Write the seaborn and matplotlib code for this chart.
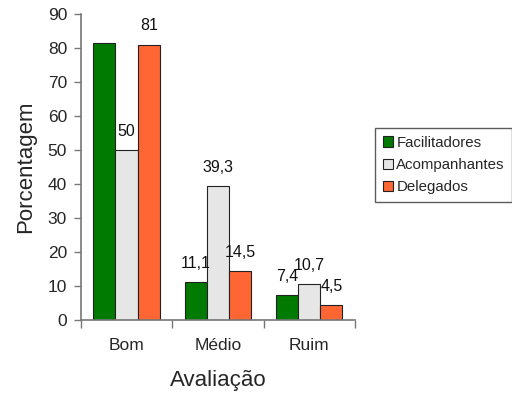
import matplotlib
matplotlib.use("Agg")
import matplotlib.pyplot as plt
import seaborn as sns
import pandas as pd

categorias = ["Bom", "Médio", "Ruim"]
grupos = ["Facilitadores", "Acompanhantes", "Delegados"]
facilitadores = [81.5, 11.1, 7.4]
acompanhantes = [50, 39.3, 10.7]
delegados = [81, 14.5, 4.5]
rotulos = {
    "Facilitadores": ["", "11,1", "7,4"],
    "Acompanhantes": ["50", "39,3", "10,7"],
    "Delegados": ["81", "14,5", "4,5"],
}
cores = ["#007A00", "#E6E6E6", "#FF6633"]

df = pd.DataFrame({
    "Avaliação": categorias * 3,
    "Grupo": [g for g in grupos for _ in categorias],
    "Porcentagem": facilitadores + acompanhantes + delegados,
})

sns.set_style("white")
plt.rcParams["font.family"] = ["Liberation Sans", "DejaVu Sans"]

fig = plt.figure(figsize=(5.12, 4.0), dpi=100)
ax = fig.add_axes([0.158, 0.2, 0.535, 0.765])

sns.barplot(data=df, x="Avaliação", y="Porcentagem", hue="Grupo",
            hue_order=grupos, order=categorias, palette=cores,
            width=0.73, gap=0, edgecolor="#222222", linewidth=0.8,
            saturation=1, ax=ax)

for cont, g in zip(ax.containers, grupos):
    ax.bar_label(cont, labels=rotulos[g], padding=8, fontsize=11.5, color="#111111")

ax.set_ylim(0, 90)
ax.set_xlim(-0.5, 2.5)
ax.set_yticks(range(0, 91, 10))
ax.tick_params(axis="y", labelsize=12.5, length=5, width=1, color="#777777",
               direction="out", left=True, pad=5)
ax.set_xticks([-0.5, 0.5, 1.5, 2.5], minor=True)
ax.tick_params(axis="x", which="minor", length=6, width=1, color="#777777",
               direction="out", bottom=True)
ax.tick_params(axis="x", which="major", length=0, labelsize=12.5, pad=13)

for s in ["top", "right"]:
    ax.spines[s].set_visible(False)
for s in ["left", "bottom"]:
    ax.spines[s].set_color("#777777")
    ax.spines[s].set_linewidth(1.2)

ax.set_xlabel("Avaliação", fontsize=16, labelpad=12)
ax.set_ylabel("Porcentagem", fontsize=16, labelpad=8)

ax.legend(loc="center left", bbox_to_anchor=(1.075, 0.506), frameon=True,
          fancybox=False, edgecolor="#333333", fontsize=10.8,
          handlelength=0.7, handleheight=0.7, handletextpad=0.2,
          borderpad=0.5, labelspacing=0.55, borderaxespad=0)

fig.savefig("out.png", dpi=100)
